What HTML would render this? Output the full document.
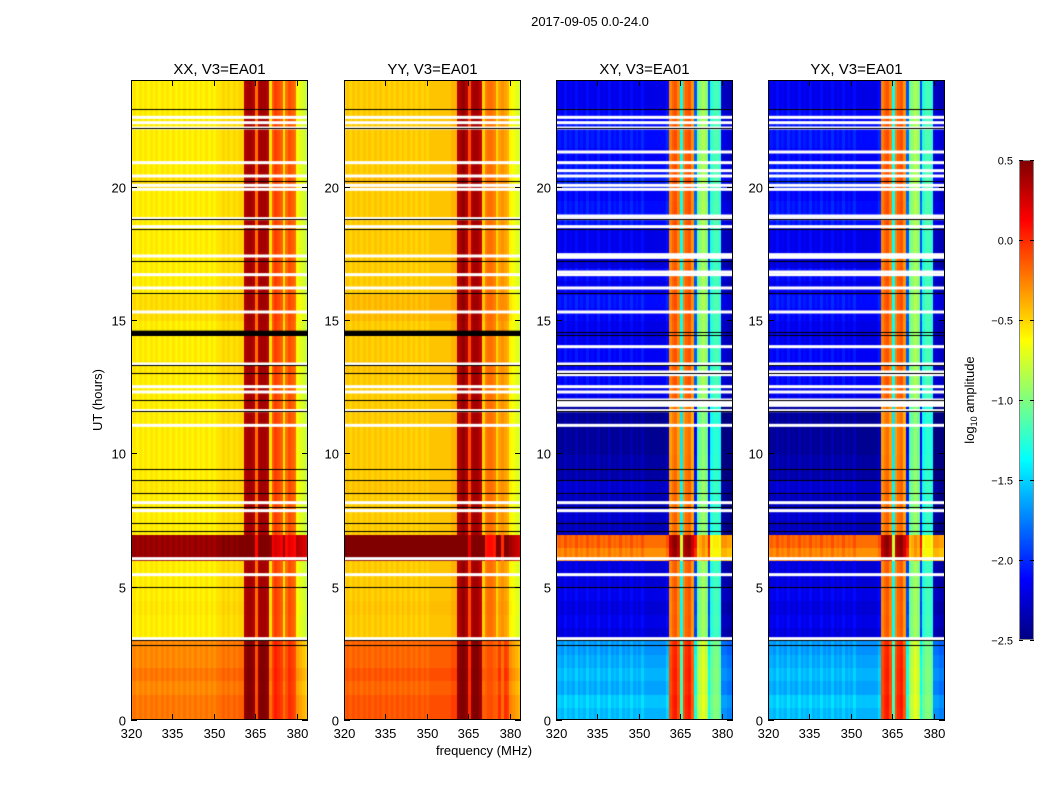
<!DOCTYPE html>
<html><head><meta charset="utf-8">
<style>
body{margin:0;background:#fff;font-family:"Liberation Sans",sans-serif;}
#root{position:relative;width:1050px;height:800px;overflow:hidden;background:#fff;}
canvas{position:absolute;}
</style></head>
<body>
<div id="root">
<svg id="ov" width="1050" height="800" style="position:absolute;left:0;top:0"></svg>
</div>
<script>
// ---- data ----
const panelTitles = ["XX, V3=EA01","YY, V3=EA01","XY, V3=EA01","YX, V3=EA01"];
const xTicks = [320,335,350,365,380];
const yTicks = [0,5,10,15,20];
const cbTicks = [0.5,0.0,-0.5,-1.0,-1.5,-2.0,-2.5];
const freqStart = 320, freqEnd = 384;
// per-1MHz channel log10 amplitude profile (320..383)
const parProfile = [-0.6,-0.55,-0.6,-0.55,-0.6,-0.55,-0.6,-0.55,-0.6,-0.55,-0.6,-0.55,-0.6,-0.55,-0.6,-0.55,
 -0.6,-0.55,-0.6,-0.55,-0.6,-0.55,-0.6,-0.55,-0.6,-0.55,-0.6,-0.55,-0.6,-0.55,-0.6,-0.55,
 -0.55,-0.5,-0.55,-0.5,-0.55,-0.5,-0.55,-0.5,-0.5,0.35,0.4,0.4,0.35,-0.2,0.35,0.4,0.4,0.35,
 -0.55,-0.15,-0.05,-0.1,-0.15,-0.55,-0.2,-0.1,-0.15,-0.2,-0.65,-0.7,-0.75,-0.8];
const yyProfile = [-0.5,-0.45,-0.5,-0.45,-0.5,-0.45,-0.5,-0.45,-0.5,-0.45,-0.5,-0.45,-0.5,-0.45,-0.5,-0.45,
 -0.5,-0.45,-0.5,-0.45,-0.5,-0.45,-0.5,-0.45,-0.5,-0.45,-0.5,-0.45,-0.5,-0.45,-0.5,-0.45,
 -0.45,-0.45,-0.45,-0.45,-0.45,-0.45,-0.45,-0.4,-0.4,0.35,0.4,0.45,0.35,-0.1,0.35,0.4,0.4,0.3,
 -0.5,-0.25,-0.2,-0.2,-0.25,-0.5,-0.35,-0.3,-0.35,-0.4,-0.6,-0.65,-0.7,-0.75];
const crossProfile = [-2.3,-2.25,-2.3,-2.2,-2.3,-2.25,-2.3,-2.2,-2.3,-2.25,-2.3,-2.2,-2.3,-2.25,-2.3,-2.2,
 -2.3,-2.25,-2.3,-2.2,-2.3,-2.25,-2.3,-2.2,-2.3,-2.25,-2.3,-2.2,-2.3,-2.25,-2.3,-2.2,
 -2.3,-2.3,-2.3,-2.3,-2.3,-2.3,-2.3,-2.3,-2.2,-0.3,-0.2,-0.15,-0.3,-1.4,-0.3,-0.2,-0.15,-0.35,
 -2.0,-1.1,-1.0,-0.9,-1.0,-2.0,-1.3,-1.2,-1.2,-1.3,-2.4,-2.4,-2.45,-2.45];
// half-hour row offsets (48 rows, 0..24h)
const parOffset = [0.35,0.35,0.3,0.35,0.3,0.3, 0,0,0.02,0,0,0, 1.0,1.0, 0,0,0,0.02,0,0,0,0,0,0,
 0,0,0.02,0,0,0,0.05,0.05,0,0,0,0, 0,0,0,0,0.05,0,0,0,0,0,0,0];
const crossOffset = [0.7,0.75,0.65,0.7,0.65,0.6, 0.05,0.1,0.05,0.1,0.05,0.05, 2.0,2.1, -0.05,0,-0.05,0,-0.1,-0.1,-0.15,-0.15,-0.15,-0.15,
 0.1,0.15,0.1,0.15,0.1,0.1,0.15,0.2,0.1,0.15,0.05,0.1, 0.1,0.2,0.2,0.15,0.25,0.2,0.15,0.2,0.2,0.15,0.1,0.1];
// flagged (white) rows in hours
const whiteRows = [3.05,5.45,6.05,7.85,8.15,11.05,11.6,12.3,12.5,13.35,15.3,16.2,16.7,17.4,18.5,18.8,19.9,20.05,20.4,20.9,22.2,22.4,22.6];
const crossWhiteRows = [11.8,11.9,12.0,12.95,13.05,17.35,17.45,14.0,16.8,18.9,21.3,20.6];
const blackRows = [2.8,3.0,5.0,7.1,7.4,8.0,8.5,9.0,9.4,11.6,12.0,13.0,13.3,14.45,14.55,16.0,17.2,18.4,18.8,20.2,22.2,22.9];

const panelLeft = [131,344,556,768];
const PW = 177, PT = 80, PH = 640;
const root = document.getElementById('root');
const ov = document.getElementById('ov');
const NS = "http://www.w3.org/2000/svg";

function jet(t){
  t=Math.max(0,Math.min(1,t));
  const r=Math.max(0,Math.min(1,1.5-Math.abs(4*t-3)));
  const g=Math.max(0,Math.min(1,1.5-Math.abs(4*t-2)));
  const b=Math.max(0,Math.min(1,1.5-Math.abs(4*t-1)));
  return `rgb(${Math.round(r*255)},${Math.round(g*255)},${Math.round(b*255)})`;
}
function cnorm(v){return (v+2.5)/3;}
function xs(f,i){return panelLeft[i]+(f-freqStart)/(freqEnd-freqStart)*PW;}
function ys(h){return PT+PH-(h/24)*PH;}

function txt(x,y,s,anchor,size,extra){
  const t=document.createElementNS(NS,'text');
  t.setAttribute('x',x);t.setAttribute('y',y);
  t.setAttribute('text-anchor',anchor||'middle');
  t.setAttribute('font-size',size||13);
  t.setAttribute('font-family','Liberation Sans, sans-serif');
  if(extra)t.setAttribute('transform',extra);
  t.textContent=s;ov.appendChild(t);return t;
}
function line(x1,y1,x2,y2){
  const l=document.createElementNS(NS,'line');
  l.setAttribute('x1',x1);l.setAttribute('y1',y1);l.setAttribute('x2',x2);l.setAttribute('y2',y2);
  l.setAttribute('stroke','#000');l.setAttribute('stroke-width',1);ov.appendChild(l);return l;
}

for(let p=0;p<4;p++){
  const cv=document.createElement('canvas');
  cv.width=PW;cv.height=PH;
  cv.style.left=panelLeft[p]+'px';cv.style.top=PT+'px';
  
  
  root.insertBefore(cv,ov);
  const c=cv.getContext('2d');
  const prof = p===0?parProfile:(p===1?yyProfile:crossProfile);
  const off = p<2?parOffset:crossOffset;
  const nF=prof.length, nT=off.length;
  for(let ti=0;ti<nT;ti++){
    for(let fi=0;fi<nF;fi++){
      const bg = (p<2)? (prof[fi]<-0.3) : (prof[fi]<-1.9);
      let v = prof[fi] + off[ti]*(bg?1:0.3);
      c.fillStyle=jet(cnorm(Math.min(0.5,v)));
      const x0=xs(freqStart+fi,p)-panelLeft[p], x1=xs(freqStart+fi+1,p)-panelLeft[p];
      const y0=ys((ti+1)*0.5)-PT, y1=ys(ti*0.5)-PT;
      c.fillRect(Math.floor(x0),Math.floor(y0),Math.ceil(x1-x0)+1,Math.ceil(y1-y0)+1);
    }
  }
  const wr = p<2?whiteRows:whiteRows.concat(crossWhiteRows);
  c.fillStyle='#fff';
  wr.forEach(h=>{c.fillRect(0,ys(h)-PT-1.5,PW,3);});
  c.fillStyle='#000';
  blackRows.forEach(h=>{c.fillRect(0,Math.round(ys(h)-PT),PW,1);});
  if(p<2){c.fillRect(0,ys(14.6)-PT,PW,5);}
  const fr=document.createElementNS(NS,'rect');
  fr.setAttribute('x',panelLeft[p]+0.5);fr.setAttribute('y',PT+0.5);
  fr.setAttribute('width',PW-1);fr.setAttribute('height',PH-1);
  fr.setAttribute('fill','none');fr.setAttribute('stroke','#000');
  
  ov.appendChild(fr);
  xTicks.forEach(f=>{
    const x=Math.round(xs(f,p))+0.5;
    line(x,PT+PH,x,PH+PT-6);line(x,PT,x,PT+6);
    const t=txt(x,PT+PH+18,String(f),'middle',13);
    
  });
  yTicks.forEach(h=>{
    const y=Math.round(ys(h))+0.5;
    line(panelLeft[p],y,panelLeft[p]+6,y);line(panelLeft[p]+PW-6,y,panelLeft[p]+PW,y);
    const t=txt(panelLeft[p]-5,y+5,String(h),'end',13);
    
  });
  const tt=txt(panelLeft[p]+PW/2,74,panelTitles[p],'middle',15);
  
}
const st=txt(590,26,"2017-09-05 0.0-24.0",'middle',13);

const yl=txt(102,400,"UT (hours)",'middle',13,'rotate(-90 102 400)');

const xl=txt(484,755,"frequency (MHz)",'middle',13);


// colorbar
const CBX=1019,CBT=160,CBW=15,CBH=480;
const cb=document.createElement('canvas');cb.width=CBW;cb.height=CBH;
cb.style.left=CBX+'px';cb.style.top=CBT+'px';


root.insertBefore(cb,ov);
const cc=cb.getContext('2d');
for(let i=0;i<CBH;i++){cc.fillStyle=jet(1-i/(CBH-1));cc.fillRect(0,i,CBW,1);}
const cbf=document.createElementNS(NS,'rect');
cbf.setAttribute('x',CBX+0.5);cbf.setAttribute('y',CBT+0.5);cbf.setAttribute('width',CBW-1);cbf.setAttribute('height',CBH-1);
cbf.setAttribute('fill','none');cbf.setAttribute('stroke','#888');ov.appendChild(cbf);
cbTicks.forEach(v=>{
  const y=Math.round(CBT+(0.5-v)/3*CBH)+0.5;
  line(CBX,y,CBX+4,y);line(CBX+CBW-4,y,CBX+CBW,y);
  const t=txt(CBX-6,y+4,(v<0?'\u2212':'')+Math.abs(v).toFixed(1),'end',11);
  
});
const cl=document.createElementNS(NS,'text');
cl.setAttribute('x',974);cl.setAttribute('y',400);cl.setAttribute('text-anchor','middle');
cl.setAttribute('font-size',13);cl.setAttribute('font-family','Liberation Sans, sans-serif');
cl.setAttribute('transform','rotate(-90 974 400)');

cl.innerHTML='log<tspan font-size="9" dy="3">10</tspan><tspan dy="-3"> amplitude</tspan>';
ov.appendChild(cl);
</script>
</body></html>
